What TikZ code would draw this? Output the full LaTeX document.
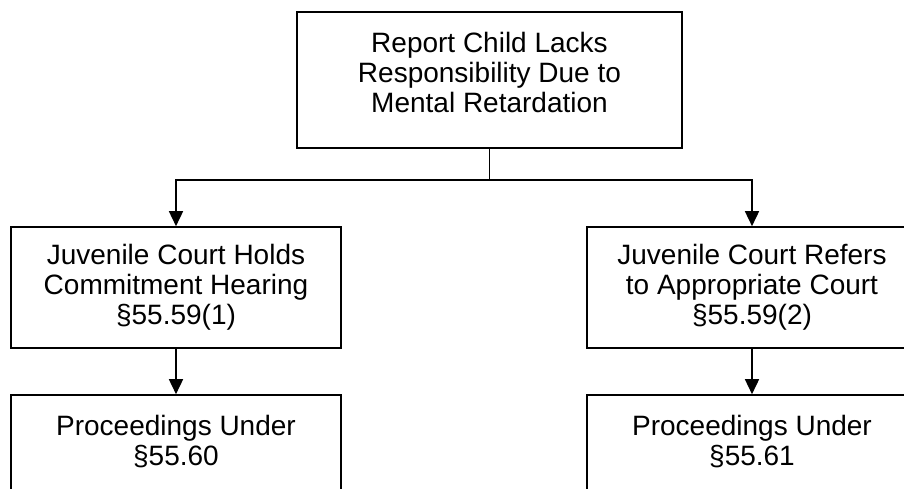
\documentclass[tikz,border=0pt]{standalone}
\usepackage{fontspec}
\setmainfont{Liberation Sans}
\usetikzlibrary{arrows.meta}
\begin{document}
\begin{tikzpicture}[x=1pt,y=-1pt,
  box/.style={draw,line width=1.6pt,align=center,inner sep=0pt,
    font=\fontsize{28}{30}\selectfont},
  link/.style={line width=1.6pt},
  arr/.style={link,-{Triangle[length=15pt,width=14pt]}}]
% Frame
\useasboundingbox (0,0) rectangle (904,489);
\clip (0,0) rectangle (904,489);

% Boxes
\node[box,minimum width=385pt,minimum height=136pt] (report) at (489.5,80)
  {Report Child Lacks\\Responsibility Due to\\Mental Retardation\\[-15pt]\mbox{}};
\node[box,minimum width=330pt,minimum height=121pt] (holds) at (176,287.5)
  {Juvenile Court Holds\\Commitment Hearing\\§55.59(1)};
\node[box,minimum width=330pt,minimum height=121pt] (refers) at (752,287.5)
  {Juvenile Court Refers\\to Appropriate Court\\§55.59(2)};
\node[box,minimum width=330pt,minimum height=121pt] (procA) at (176,455.5)
  {Proceedings Under\\§55.60\\\mbox{}};
\node[box,minimum width=330pt,minimum height=121pt] (procB) at (752,455.5)
  {Proceedings Under\\§55.61\\\mbox{}};

% Connectors
\coordinate (split) at (489.5,180);
\draw[link] (report.south) -- (split);
\draw[arr] (split) -| (holds.north);
\draw[arr] (split) -| (refers.north);
\draw[arr] (holds.south) -- (procA.north);
\draw[arr] (refers.south) -- (procB.north);
\end{tikzpicture}
\end{document}
